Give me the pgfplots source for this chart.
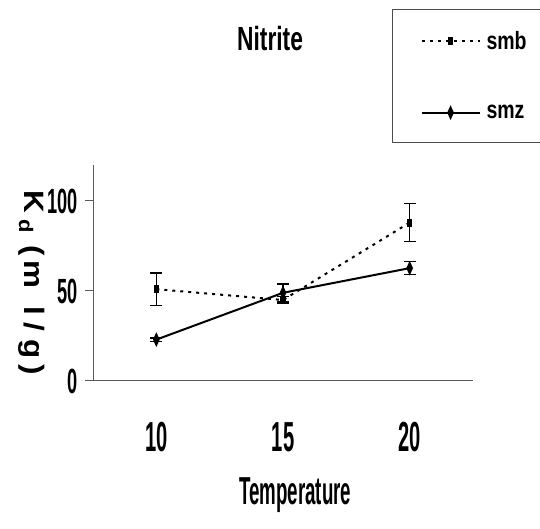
\documentclass[border=0pt]{standalone}
\usepackage{pgfplots}
\pgfplotsset{compat=1.18}
\usepackage{fontspec}
\setmainfont{Liberation Sans}
\newfontfamily\fA[FakeStretch=0.52]{Liberation Sans}
\newfontfamily\fB[FakeStretch=0.48]{Liberation Sans}
\newfontfamily\fT[FakeStretch=0.68]{Liberation Sans}
\newfontfamily\fL[FakeStretch=0.78]{Liberation Sans}
\newfontfamily\fY[FakeStretch=1.12]{Liberation Sans}
\begin{document}
\begin{tikzpicture}
\useasboundingbox (0,0) rectangle (540pt,529pt);
\begin{axis}[
  at={(93pt,148pt)}, anchor=south west,
  width=380pt, height=216pt, scale only axis,
  xmin=0.5, xmax=3.5, ymin=0, ymax=120,
  axis x line=bottom, axis y line=left,
  axis line style={-, draw=black!65, line width=1pt},
  /pgf/number format/assume math mode=true,
  xtick={1,2,3}, xticklabels={10,15,20},
  x tick style={draw=none},
  extra x ticks={0.5,1.5,2.5,3.5}, extra x tick labels={},
  extra x tick style={major tick length=11pt, tick align=outside, tick style={draw=black!65, line width=1pt}},
  ytick={0,50,100},
  y tick style={draw=black!65, line width=1pt},
  tick align=outside, major tick length=8pt,
  xticklabel style={font=\fB\bfseries\fontsize{42}{42}\selectfont, anchor=base, inner sep=0pt, yshift=-62pt},
  yticklabel style={font=\fA\bfseries\fontsize{35}{35}\selectfont, inner sep=0pt, xshift=-7pt},
  title={Nitrite},
  title style={font=\fT\bfseries\fontsize{33.5}{33.5}\selectfont, at={(rel axis cs:0.466,1.5)}, anchor=base, inner sep=0pt},
  xlabel={Temperature},
  xlabel style={font=\fB\bfseries\fontsize{39}{39}\selectfont, at={(rel axis cs:0.532,-0.574)}, anchor=base, inner sep=0pt},
  ylabel={K\hspace{6pt}\textsubscript{d}\hspace{12pt}(\hspace{5pt}m\hspace{18pt}l\hspace{7pt}/\hspace{9pt}g\hspace{6pt})},
  ylabel style={font=\fY\bfseries\fontsize{28}{28}\selectfont, at={(rel axis cs:-0.1605,0.4537)}, anchor=center, rotate=180, inner sep=0pt},
  legend image code/.code={
    \draw[mark repeat=2,mark phase=2,#1] plot coordinates {(0pt,0pt)(29pt,0pt)(58pt,0pt)};
  },
  legend cell align=left,
  legend style={at={(rel axis cs:0.787,1.722)}, anchor=north west, draw=black!70, line width=1pt,
    font=\fL\bfseries\fontsize{25}{25}\selectfont, inner xsep=28pt, inner ysep=20pt, row sep=50pt,
    /tikz/every odd column/.append style={column sep=4pt}},
  clip=false,
]
\addplot[black, line width=2pt, dash pattern=on 3pt off 5pt, mark=square*, mark size=3pt,
  mark options={solid, xscale=0.6},
  error bars/.cd, y dir=both, y explicit, error mark=-, error mark options={rotate=90, mark size=6pt, line width=1.5pt, solid},
  error bar style={line width=1.5pt, solid}]
  coordinates {(1,51) +- (0,9) (2,45) +- (0,2) (3,88) +- (0,10.5)};
\addlegendentry{smb}
\addplot[black, line width=2pt, mark=diamond*, mark size=5pt, mark options={xscale=0.6},
  error bars/.cd, y dir=both, y explicit, error mark=-, error mark options={rotate=90, mark size=6pt, line width=1.5pt},
  error bar style={line width=1.5pt}]
  coordinates {(1,23) +- (0,1) (2,49) +- (0,5) (3,62.7) +- (0,3.6)};
\addlegendentry{smz\rule[-11pt]{0pt}{11pt}}
\end{axis}
\end{tikzpicture}
\end{document}
